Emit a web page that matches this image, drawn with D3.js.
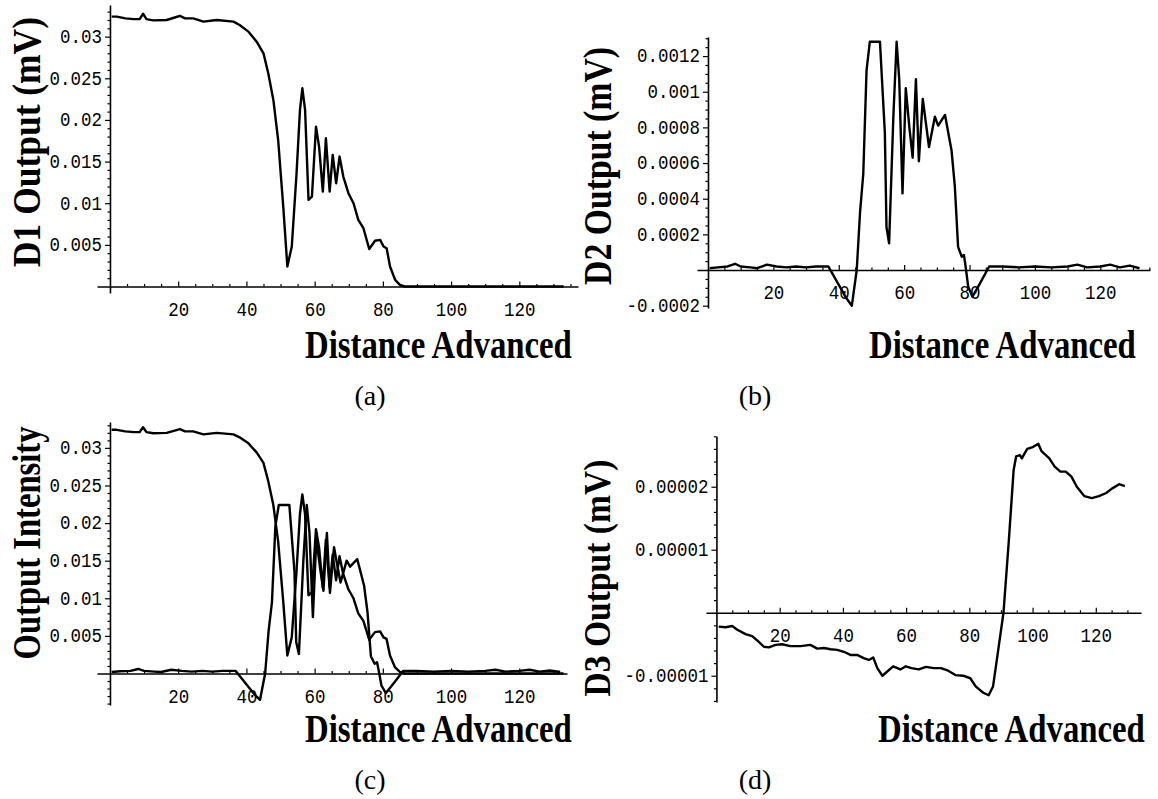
<!DOCTYPE html>
<html>
<head>
<meta charset="utf-8">
<script src="https://cdn.jsdelivr.net/npm/d3@7"></script>
<style>
  body { margin: 0; background: #fff; }
  svg { display: block; }
</style>
</head>
<body>
<svg id="chart" width="1158" height="799"></svg>
<script>
// ---- data ([distance, value]) ----
const d1Output = [
  [0.5,0.0324],[2,0.0324],[4.5,0.0322],[7,0.0321],[8.7,0.0321],[9.7,0.03275],[10.7,0.0321],
  [12.7,0.03195],[16.6,0.0320],[19,0.0323],[20.5,0.0325],[22,0.0322],[24.4,0.0322],[27.4,0.0318],
  [31.3,0.0320],[36.2,0.0318],[38,0.0314],[40.6,0.0306],[43,0.0294],[45,0.0280],[46.4,0.0256],
  [47.9,0.0224],[49.3,0.0176],[50.8,0.0096],[52,0.0024],[53.3,0.0048],[54.7,0.0136],[55.7,0.0212],
  [56.4,0.0238],[57.2,0.0212],[58.2,0.0104],[59.2,0.0108],[60.4,0.0192],[61.3,0.0168],[62.4,0.0114],
  [63.3,0.0178],[64.4,0.0114],[65.3,0.0158],[66.3,0.0124],[67.3,0.0156],[68.4,0.0132],[69.9,0.0112],
  [71.4,0.0100],[72.8,0.0080],[74.3,0.0070],[76,0.0045],[77.7,0.0055],[79.2,0.0056],[80.2,0.0048],
  [81.1,0.0046],[82.1,0.0024],[83.6,0.0008],[85,0.0002],[86.4,0],[133,0]
];

const d2Output = [
  [0.5,0.00001],[3,0.000015],[6,0.00002],[8.3,0.000035],[10,0.00002],[13,0.000015],[15,0.00001],
  [18,0.00003],[21,0.00002],[24,0.000015],[27,0.00002],[30,0.000015],[33,0.00002],[36.8,0.00002],
  [42.4,-0.00016],[44,-0.0002],[45.5,0],[46.5,0.00032],[47.5,0.00054],[48.5,0.00112],[49.5,0.00128],
  [52.6,0.00128],[54.1,0.00077],[54.6,0.00024],[55.4,0.00015],[56.7,0.00086],[57.7,0.00128],
  [58.5,0.00107],[59.5,0.00043],[60.5,0.00102],[61.6,0.0008],[62.6,0.00063],[63.6,0.00107],
  [64.5,0.00061],[65.7,0.00096],[66.4,0.00086],[67.6,0.00069],[69.4,0.00086],[70.4,0.00081],
  [72.5,0.00087],[74.5,0.00067],[75.5,0.00047],[76.5,0.00013],[77.6,0.000075],[78.3,0.000084],
  [78.8,0.00002],[79.6,-0.000094],[80.9,-0.00015],[83.2,-0.000075],[86,0.00002],[90,0.00002],
  [95,0.000015],[100,0.00002],[105,0.000015],[110,0.00002],[113,0.00003],[116,0.000015],
  [120,0.00002],[123,0.00003],[126,0.000015],[129,0.000025],[132,0.00001]
];

// second trace of panel (c)
const intensityTrace = [
  [0.5,0.0002],[3,0.0003],[6,0.00035],[8.3,0.0006],[10,0.00035],[13,0.00025],[15,0.0002],
  [18,0.0005],[21,0.00035],[24,0.00025],[27,0.00035],[30,0.00025],[33,0.00035],[36.8,0.00035],
  [42.4,-0.0028],[44,-0.0035],[45.5,0],[46.5,0.0056],[47.5,0.0095],[48.5,0.0196],[49.5,0.0224],
  [52.6,0.0224],[54.1,0.0135],[54.6,0.0042],[55.4,0.0026],[56.7,0.015],[57.7,0.0224],[58.5,0.0187],
  [59.5,0.0075],[60.5,0.0179],[61.6,0.014],[62.6,0.011],[63.6,0.0187],[64.5,0.0107],[65.7,0.0168],
  [66.4,0.015],[67.6,0.0121],[69.4,0.015],[70.4,0.0142],[72.5,0.0152],[74.5,0.0117],[75.5,0.0082],
  [76.5,0.0023],[77.6,0.0013],[78.3,0.0015],[78.8,0.00035],[79.6,-0.0016],[80.9,-0.0026],
  [83.2,-0.0013],[86,0.00035],[90,0.00035],[95,0.00025],[100,0.00035],[105,0.00025],[110,0.00035],
  [113,0.0005],[116,0.00025],[120,0.00035],[123,0.0005],[126,0.00025],[129,0.0004],[132,0.0002]
];

const d3Output = [
  [0.7,-2.2e-6],[2.9,-2.3e-6],[5,-2.1e-6],[6.6,-2.7e-6],[9.2,-3.4e-6],[11.3,-3.7e-6],[12.9,-4.4e-6],
  [15,-5.4e-6],[16.6,-5.5e-6],[18.7,-5.1e-6],[20.8,-5.0e-6],[23.4,-5.3e-6],[26.6,-5.3e-6],
  [29.7,-5.1e-6],[31.9,-5.7e-6],[34,-5.6e-6],[36.1,-5.8e-6],[38.2,-5.9e-6],[40.3,-6.2e-6],
  [42.4,-6.7e-6],[44.5,-6.7e-6],[46.6,-7.2e-6],[48.2,-7.5e-6],[49.6,-7.1e-6],[50.9,-8.8e-6],
  [52.5,-1.0e-5],[55.9,-8.5e-6],[58.2,-9.0e-6],[59.9,-8.5e-6],[61.7,-8.8e-6],[64,-9.0e-6],
  [66.3,-8.6e-6],[68.7,-8.8e-6],[71,-8.8e-6],[73.3,-9.2e-6],[75.6,-9.9e-6],[78,-1.0e-5],
  [80.3,-1.04e-5],[82,-1.17e-5],[84.4,-1.27e-5],[86.1,-1.31e-5],[87.5,-1.17e-5],[89,-6.4e-6],
  [90.8,0],[92.5,1.15e-5],[94,2.26e-5],[94.8,2.48e-5],[96,2.5e-5],[96.6,2.45e-5],[98.3,2.6e-5],
  [100.1,2.63e-5],[101.8,2.68e-5],[102.9,2.56e-5],[105.3,2.45e-5],[107,2.32e-5],[108.8,2.24e-5],
  [110.5,2.24e-5],[112.3,2.16e-5],[114,2.0e-5],[116.4,1.85e-5],[118.7,1.82e-5],[121,1.85e-5],
  [123.3,1.9e-5],[125.1,1.97e-5],[127.4,2.04e-5],[129.2,2.01e-5]
];

// ticks
const xTicks = [20, 40, 60, 80, 100, 120];
const yTicksA = [0.005, 0.01, 0.015, 0.02, 0.025, 0.03];
const yTicksB = [-0.0002, 0.0002, 0.0004, 0.0006, 0.0008, 0.001, 0.0012];
const yTicksD = [-0.00001, 0.00001, 0.00002];

// titles
const yTitles = ['D1 Output (mV)', 'D2 Output (mV)', 'Output Intensity', 'D3 Output (mV)'];
const xTitle = 'Distance Advanced';
const panelTags = ['(a)', '(b)', '(c)', '(d)'];

const svg = d3.select('#chart');
svg.append('rect').attr('width', 1158).attr('height', 799).attr('fill', '#fff');

const monoFont = "'Liberation Mono', 'Courier New', monospace";
const serifFont = "'Liberation Serif', 'Times New Roman', serif";

// bold serif title squeezed to a given length (scan has tall, narrow glyphs)
function title(g, str, x, y, len, rotated) {
	const t = g.append('text')
		.style('font-family', serifFont)
		.style('font-weight', 'bold')
		.style('font-size', '39px')
		.attr('text-anchor', rotated ? 'middle' : 'start')
		.text(str);
	const w = t.node().getComputedTextLength();
	const sx = len / w;
	t.attr('transform', `translate(${x}, ${y})${rotated ? ' rotate(-90)' : ''} scale(${sx}, 1)`);
}

function drawPanel(p) {
	const x = d3.scaleLinear().domain(p.xDom).range(p.xPx);
	const y = d3.scaleLinear().domain(p.yDom).range(p.yPx);
	const g = svg.append('g');

	// minor ticks
	const xMinor = d3.range(5, p.xDom[1], 5).filter((v) => v % 20 !== 0);
	g.append('g')
		.attr('transform', `translate(0, ${y(0)})`)
		.call(d3.axisBottom(x).tickValues(xMinor).tickSize(-2.5).tickFormat(''))
		.call((s) => s.select('.domain').remove());
	const yMinor = d3.range(Math.ceil(p.yDom[0] / p.yMinorStep), Math.floor(p.yDom[1] / p.yMinorStep) + 1)
		.map((k) => k * p.yMinorStep)
		.filter((v) => !p.yTicks.some((t) => Math.abs(t - v) < p.yMinorStep / 10) && Math.abs(v) > p.yMinorStep / 10);
	g.append('g')
		.attr('transform', `translate(${x(0)}, 0)`)
		.call(d3.axisLeft(y).tickValues(yMinor).tickSize(2.5).tickFormat(''))
		.call((s) => s.select('.domain').remove());

	// main axes
	const xAxis = g.append('g')
		.attr('transform', `translate(0, ${y(0)})`)
		.call(d3.axisBottom(x).tickValues(xTicks).tickSize(-5).tickSizeOuter(0).tickFormat(d3.format('d')));
	xAxis.selectAll('text').attr('y', 26).attr('dy', null);

	const yAxis = g.append('g')
		.attr('transform', `translate(${x(0)}, 0)`)
		.call(d3.axisLeft(y).tickValues(p.yTicks).tickSize(5).tickSizeOuter(0).tickFormat((d) => String(d)));
	yAxis.selectAll('text').attr('x', -8).attr('dy', '0.3em');

	g.selectAll('.domain').attr('stroke', '#000').attr('stroke-width', 1.6);
	g.selectAll('.tick line').attr('stroke', '#000').attr('stroke-width', 1.2);
	// the scan's Courier digits are slightly taller than wide
	g.selectAll('.tick text')
		.attr('fill', '#000')
		.attr('transform', 'scale(1, 1.12)')
		.style('font-family', monoFont)
		.style('font-size', '17.5px');

	// curves
	const line = d3.line().x((d) => x(d[0])).y((d) => y(d[1]));
	p.series.forEach((s) => {
		g.append('path')
			.datum(s)
			.attr('d', line)
			.attr('fill', 'none')
			.attr('stroke', '#000')
			.attr('stroke-width', 2.4)
			.attr('stroke-linejoin', 'round');
	});

	title(g, p.yTitle.text, p.yTitle.x, p.yTitle.y, p.yTitle.len, true);
	title(g, xTitle, p.xTitle.x, p.xTitle.y, p.xTitle.len, false);

	// panel tag
	g.append('text')
		.attr('x', p.tag.x)
		.attr('y', p.tag.y)
		.attr('text-anchor', 'middle')
		.style('font-family', serifFont)
		.style('font-size', '28px')
		.text(p.tag.text);
}

drawPanel({
	xDom: [-3.8, 137.2], xPx: [97, 578],
	yDom: [-0.00078, 0.0338], yPx: [293, 5],
	yTicks: yTicksA, yMinorStep: 0.001,
	series: [d1Output],
	yTitle: { text: yTitles[0], x: 40, y: 142, len: 250 },
	xTitle: { x: 305, y: 358, len: 267 },
	tag: { text: panelTags[0], x: 370, y: 405 }
});

drawPanel({
	xDom: [-3.36, 135.2], xPx: [697, 1150],
	yDom: [-0.000213, 0.001307], yPx: [308, 37],
	yTicks: yTicksB, yMinorStep: 0.00005,
	series: [d2Output],
	yTitle: { text: yTitles[1], x: 611, y: 166, len: 238 },
	xTitle: { x: 869, y: 358, len: 267 },
	tag: { text: panelTags[1], x: 755, y: 405 }
});

drawPanel({
	xDom: [-3.8, 134], xPx: [97, 567],
	yDom: [-0.00419, 0.03344], yPx: [705, 422],
	yTicks: yTicksA, yMinorStep: 0.001,
	series: [d1Output, intensityTrace],
	yTitle: { text: yTitles[2], x: 40, y: 543, len: 233 },
	xTitle: { x: 305, y: 742, len: 267 },
	tag: { text: panelTags[2], x: 370, y: 789 }
});

drawPanel({
	xDom: [-3.3, 134.3], xPx: [706, 1141],
	yDom: [-1.417e-5, 2.805e-5], yPx: [702, 436],
	yTicks: yTicksD, yMinorStep: 0.000002,
	series: [d3Output],
	yTitle: { text: yTitles[3], x: 610, y: 578, len: 237 },
	xTitle: { x: 878, y: 742, len: 267 },
	tag: { text: panelTags[3], x: 755, y: 789 }
});
</script>
</body>
</html>
